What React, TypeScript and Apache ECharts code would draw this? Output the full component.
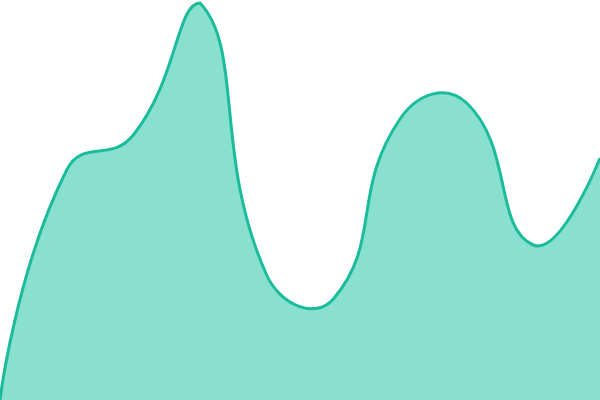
import React, { useEffect, useRef } from 'react';
import * as echarts from 'echarts';

const categories = ['1', '2', '3', '4', '5', '6', '7', '8', '9', '10'];
const values = [0, 230, 265, 397, 125, 101, 281, 297, 155, 242];

const SMOOTH = 0.5;
const LINE_COLOR = '#1abc9c';
const AREA_COLOR = '#8ae0cf';

// bezier smoothing in the old (v4) line style: only clamped to the points' bounding box
function smoothPath(pts: number[][], smooth: number) {
  const n = pts.length;
  let minX = Infinity, minY = Infinity, maxX = -Infinity, maxY = -Infinity;
  pts.forEach(p => {
    minX = Math.min(minX, p[0]); maxX = Math.max(maxX, p[0]);
    minY = Math.min(minY, p[1]); maxY = Math.max(maxY, p[1]);
  });
  const clamp = (c: number[]) => [
    Math.min(Math.max(c[0], minX), maxX),
    Math.min(Math.max(c[1], minY), maxY)
  ];
  let d = `M${pts[0][0]} ${pts[0][1]}`;
  let cp0 = [pts[0][0], pts[0][1]];
  for (let i = 1; i < n; i++) {
    const p = pts[i];
    let cp1 = [p[0], p[1]];
    let nextCp0 = [p[0], p[1]];
    if (i < n - 1) {
      const prev = pts[i - 1];
      const next = pts[i + 1];
      const vx = next[0] - prev[0];
      const vy = next[1] - prev[1];
      const lp = Math.hypot(p[0] - prev[0], p[1] - prev[1]);
      const ln = Math.hypot(next[0] - p[0], next[1] - p[1]);
      const r = ln / (ln + lp);
      cp1 = [p[0] - vx * smooth * (1 - r), p[1] - vy * smooth * (1 - r)];
      nextCp0 = [p[0] + vx * smooth * r, p[1] + vy * smooth * r];
    }
    const a = clamp(cp0);
    const b = clamp(cp1);
    d += ` C${a[0]} ${a[1]} ${b[0]} ${b[1]} ${p[0]} ${p[1]}`;
    cp0 = nextCp0;
  }
  return d;
}

export default function App() {
  const chartRef = useRef<HTMLDivElement>(null);

  useEffect(() => {
    if (!chartRef.current) return;
    document.body.style.margin = '0';
    const chart = echarts.init(chartRef.current, null, { renderer: 'svg' });

    chart.setOption({
      animation: false,
      backgroundColor: '#fff',
      grid: { left: 0, right: 0, top: 0, bottom: 0 },
      xAxis: {
        type: 'category',
        boundaryGap: false,
        data: categories,
        show: false
      },
      yAxis: {
        type: 'value',
        min: 0,
        max: 400,
        show: false
      },
      series: [
        {
          type: 'custom',
          clip: false,
          data: values.map((v, i) => [i, v]),
          renderItem: (params: any, api: any) => {
            if (params.dataIndex !== 0) return null;
            const pts = values.map((v, i) => api.coord([i, v]));
            const baseStart = api.coord([0, 0]);
            const baseEnd = api.coord([values.length - 1, 0]);
            const line = smoothPath(pts, SMOOTH);
            return {
              type: 'group',
              children: [
                {
                  type: 'path',
                  shape: {
                    pathData: `${line} L${baseEnd[0]} ${baseEnd[1]} L${baseStart[0]} ${baseStart[1]} Z`
                  },
                  style: { fill: AREA_COLOR, stroke: 'none' }
                },
                {
                  type: 'path',
                  shape: { pathData: line },
                  style: { fill: 'none', stroke: LINE_COLOR, lineWidth: 3 }
                }
              ]
            };
          }
        }
      ]
    });

    return () => chart.dispose();
  }, []);

  return <div ref={chartRef} style={{ width: '600px', height: '400px' }} />;
}
